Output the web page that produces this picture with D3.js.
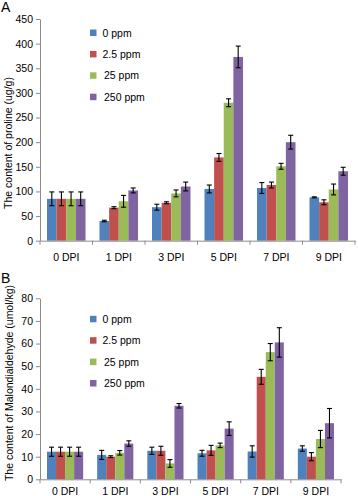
<!DOCTYPE html>
<html>
<head>
<meta charset="utf-8">
<script src="https://cdn.jsdelivr.net/npm/d3@7"></script>
<style>
  body { margin: 0; background: #fff; }
  svg { font-family: "Liberation Sans", Arial, sans-serif; }
  .axis path, .axis line { stroke: #8c8c8c; }
  .axis text { fill: #000; font-size: 10.5px; }
</style>
</head>
<body>
<div id="chart"></div>
<script>
var w = 358;
var h = 496;

// data
var categories = ["0 DPI", "1 DPI", "3 DPI", "5 DPI", "7 DPI", "9 DPI"];
var series = ["0 ppm", "2.5 ppm", "25 ppm", "250 ppm"];
var colors = ["#4f81bd", "#c0504d", "#9bbb59", "#8064a2"];

var prolineTicks = [0, 50, 100, 150, 200, 250, 300, 350, 400, 450];
var proline0 = [85, 40, 68, 105, 107, 88];
var proline25a = [85, 67, 77, 169, 113, 78];
var proline25 = [85, 80, 96, 280, 151, 104];
var proline250 = [85, 102, 110, 373, 200, 141];
var prolineErr0 = [14, 1.5, 6, 8, 11, 1];
var prolineErr25a = [14, 2, 2, 8, 6, 5];
var prolineErr25 = [14, 12, 7, 8, 6, 11];
var prolineErr250 = [14, 5, 9, 22, 14, 8];

var mdaTicks = [0, 10, 20, 30, 40, 50, 60, 70, 80];
var mda0 = [12.2, 10.8, 12.6, 11.5, 12.3, 13.6];
var mda25a = [12.2, 10, 12.6, 12.8, 45.3, 10];
var mda25 = [12.2, 11.7, 7, 15, 56.2, 17.8];
var mda250 = [12.2, 15.8, 32.5, 22.4, 60.5, 24.8];
var mdaErr0 = [2, 2, 1.6, 1.3, 2.5, 1.2];
var mdaErr25a = [2, 0.4, 2, 2.2, 3.3, 1.8];
var mdaErr25 = [2, 1, 1.7, 1, 3.8, 3.8];
var mdaErr250 = [2, 1.2, 1, 3, 6.5, 6.5];

var svg = d3.select("#chart")
    .append("svg")
    .attr("width", w)
    .attr("height", h);

function panel(opt) {
    var values = opt.values, errors = opt.errors;

    var x0 = d3.scaleBand()
        .domain(categories)
        .range([40, opt.right]);

    var x1 = d3.scaleBand()
        .domain(series)
        .range([7, x0.bandwidth() - 7]);

    var y = d3.scaleLinear()
        .domain([0, d3.max(opt.ticks)])
        .range([opt.bottom, opt.top]);

    var g = svg.append("g");

    // bars
    series.forEach(function(s, i) {
        var rows = categories.map(function(c, j) {
            return {cat: c, v: values[i][j], e: errors[i][j]};
        });
        var sg = g.append("g");
        sg.selectAll("rect")
            .data(rows)
            .enter().append("rect")
            .attr("x", function(d) { return x0(d.cat) + x1(s); })
            .attr("y", function(d) { return y(d.v); })
            .attr("width", x1.bandwidth())
            .attr("height", function(d) { return y(0) - y(d.v); })
            .attr("fill", colors[i]);

        // error bars
        var eb = sg.selectAll("g.err")
            .data(rows)
            .enter().append("g")
            .attr("class", "err")
            .attr("stroke", "#000")
            .attr("stroke-width", 1.1);
        eb.append("line")
            .attr("x1", function(d) { return x0(d.cat) + x1(s) + x1.bandwidth() / 2; })
            .attr("x2", function(d) { return x0(d.cat) + x1(s) + x1.bandwidth() / 2; })
            .attr("y1", function(d) { return y(d.v + d.e); })
            .attr("y2", function(d) { return y(d.v - d.e); });
        [1, -1].forEach(function(sign) {
            eb.append("line")
                .attr("x1", function(d) { return x0(d.cat) + x1(s) + x1.bandwidth() / 2 - 2.5; })
                .attr("x2", function(d) { return x0(d.cat) + x1(s) + x1.bandwidth() / 2 + 2.5; })
                .attr("y1", function(d) { return y(d.v + sign * d.e); })
                .attr("y2", function(d) { return y(d.v + sign * d.e); });
        });
    });

    // y axis
    var yAxis = d3.axisLeft(y)
        .tickValues(opt.ticks)
        .tickSize(4)
        .tickSizeOuter(0)
        .tickPadding(3);
    g.append("g")
        .attr("class", "axis")
        .attr("transform", "translate(40,0)")
        .call(yAxis);

    // x axis: labels at centres, ticks at group boundaries
    var xAxis = d3.axisBottom(x0)
        .tickSize(0)
        .tickSizeOuter(0)
        .tickPadding(opt.labelPad);
    var xg = g.append("g")
        .attr("class", "axis")
        .attr("transform", "translate(0," + opt.bottom + ")")
        .call(xAxis);
    xg.selectAll(".bound")
        .data(categories.concat(["end"]))
        .enter().append("line")
        .attr("class", "bound")
        .attr("x1", function(d) { return d == "end" ? x0.range()[1] : x0(d); })
        .attr("x2", function(d) { return d == "end" ? x0.range()[1] : x0(d); })
        .attr("y1", 0)
        .attr("y2", 4);

    // axis title
    g.append("text")
        .attr("transform", "translate(" + opt.titleX + "," + opt.titleY + ") rotate(-90)")
        .attr("text-anchor", "middle")
        .attr("dy", "0.35em")
        .style("font-size", "10.5px")
        .text(opt.title);

    // panel letter
    g.append("text")
        .attr("x", 1)
        .attr("y", opt.letterY)
        .style("font-size", "14px")
        .text(opt.letter);

    // legend
    var lg = g.selectAll(".legend")
        .data(series)
        .enter().append("g")
        .attr("transform", function(d, i) { return "translate(90," + (opt.legendY + i * 21.4) + ")"; });
    lg.append("rect")
        .attr("x", 0)
        .attr("y", -3.5)
        .attr("width", 6.5)
        .attr("height", 6.5)
        .attr("fill", function(d, i) { return colors[i]; });
    lg.append("text")
        .attr("x", function(d, i) { return i >= 2 ? 14 : 12.5; })
        .attr("dy", "0.35em")
        .style("font-size", "10.5px")
        .text(function(d) { return d; });
}

panel({
    values: [proline0, proline25a, proline25, proline250],
    errors: [prolineErr0, prolineErr25a, prolineErr25, prolineErr250],
    ticks: prolineTicks,
    right: 355,
    top: 19,
    bottom: 240.7,
    labelPad: 13,
    title: "The content of proline (ug/g)",
    titleX: 8,
    titleY: 143,
    letter: "A",
    letterY: 12,
    legendY: 33
});

panel({
    values: [mda0, mda25a, mda25, mda250],
    errors: [mdaErr0, mdaErr25a, mdaErr25, mdaErr250],
    ticks: mdaTicks,
    right: 341,
    top: 298.3,
    bottom: 479.3,
    labelPad: 8,
    title: "The content of Malondialdehyde (umol/kg)",
    titleX: 9,
    titleY: 383,
    letter: "B",
    letterY: 283,
    legendY: 319.3
});
</script>
</body>
</html>
